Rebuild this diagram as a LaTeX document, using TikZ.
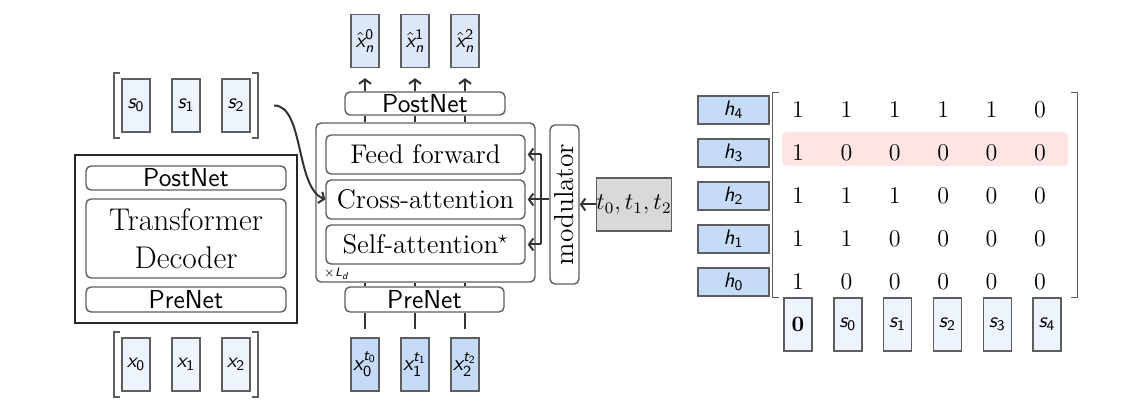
\documentclass[tikz,border=0pt]{standalone}
\usepackage{graphicx}
\usetikzlibrary{positioning,fit,calc,arrows.meta}
\DeclareMathAlphabet{\mathsfit}{TU}{lmss}{m}{sl}
\DeclareMathAlphabet{\mathsfup}{TU}{lmss}{m}{n}
\definecolor{edgegray}{HTML}{5E5E5E}
\definecolor{wiregray}{HTML}{333333}
\definecolor{veclight}{HTML}{EEF4FD}
\definecolor{vechat}{HTML}{DCE8F9}
\definecolor{vecmid}{HTML}{C6DBF7}
\definecolor{tgray}{HTML}{D9D9D9}
\definecolor{hlpink}{HTML}{FFE4E4}
\newcommand{\blockfont}{\fontsize{13.5}{16}\selectfont}
\newcommand{\netfont}{\sffamily\fontsize{13}{15}\selectfont}
\begin{document}
\begin{tikzpicture}[x=0.5pt,y=-0.5pt, >={Straight Barb[length=2.2pt,width=6pt]},
    vec/.style={draw=edgegray, fill=veclight, line width=0.7pt, minimum width=14pt,
      minimum height=26.5pt, inner sep=0pt, font=\fontsize{10.5}{12}\selectfont},
    block/.style={draw=edgegray, line width=0.7pt, rounded corners=2.5pt, inner sep=0pt},
    bracket/.style={draw=edgegray, line width=0.8pt},
    wire/.style={draw=wiregray, line width=1pt}]
  \useasboundingbox (0,0) rectangle (1142,406);

  % Left: plain decoder with its sequences
  \foreach \i in {0,1,2} {
    \node[vec] (s\i) at (136+50*\i,105.5) {$\mathsfit{s}_{\mathsfup{\i}}$};
    \node[vec] (x\i) at (136+50*\i,364.5) {$\mathsfit{x}_{\mathsfup{\i}}$};
  }
  \node[fit=(s0)(s2), inner xsep=3.5pt, inner ysep=2.5pt] (svec) {};
  \node[fit=(x0)(x2), inner xsep=3.5pt, inner ysep=2.5pt] (xvec) {};
  \node[fit={(773,93) (1077,297)}, inner sep=0pt] (mat) {};
  \foreach \v in {svec,xvec,mat} {
    \draw[bracket] ($(\v.north west)+(6,0)$) -- (\v.north west) -- (\v.south west) -- ($(\v.south west)+(6,0)$);
    \draw[bracket] ($(\v.north east)+(-6,0)$) -- (\v.north east) -- (\v.south east) -- ($(\v.south east)+(-6,0)$);
  }
  \node[draw=black!85, line width=0.7pt, minimum width=111pt, minimum height=84pt] (dec) at (186,239) {};
  \node[block, minimum width=100pt, minimum height=12pt, font=\netfont] (decpost) at (186,178) {PostNet};
  \node[block, minimum width=100pt, minimum height=39.5pt, align=center,
    font=\fontsize{15.7}{19}\selectfont] (dectr) at (186,238.5) {Transformer\\Decoder};
  \node[block, minimum width=100pt, minimum height=12.5pt, font=\netfont] (decpre) at (186,299.5) {PreNet};

  % Middle: modulated decoder
  \foreach \i in {0,1,2} {
    \node[vec, fill=vechat] (yh\i) at (365+50*\i,41) {$\hat{\mathsfit{x}}_{\mathsfit{n}}^{\mathsfup{\i}}$};
    \node[vec, fill=vecmid, font=\fontsize{11}{12}\selectfont] (xt\i) at (365+50*\i,364.5)
      {$\mathsfit{x}_{\mathsfup{\i}}^{\mathsfit{t}_{\mathsfup{\i}}}$};
  }
  \node[block, minimum width=80pt, minimum height=11.5pt, font=\netfont] (post) at (425,103.5) {PostNet};
  \node[block, minimum width=109.5pt, minimum height=79.5pt] (ld) at (425.5,202.5) {};
  \node[anchor=south west, inner sep=0pt, font=\fontsize{6}{7}\selectfont] (ldnum)
    at ($(ld.south west)+(8,-3)$) {$\times\mathsfit{L}_{\mathsfit{d}}$};
  \node[block, minimum width=99.5pt, minimum height=19.5pt, font=\blockfont] (ff) at (425.5,154.5) {Feed forward};
  \node[block, minimum width=99.5pt, minimum height=19.5pt, font=\blockfont] (ca) at (425.5,199.5) {Cross-attention};
  \node[block, minimum width=99.5pt, minimum height=19.5pt, font=\blockfont] (sa) at (425.5,244.5) {Self-attention$^\star$};
  \node[block, minimum width=14.5pt, minimum height=79.5pt, font=\fontsize{13.7}{16}\selectfont] (mod)
    at (564.5,204.5) {\rotatebox{90}{modulator}};
  \node[draw=edgegray, fill=tgray, line width=0.7pt, minimum width=37pt, minimum height=26.5pt,
    inner sep=0pt, font=\fontsize{11.5}{13}\selectfont] (tt) at (634,204.5) {$t_0,t_1,t_2$};
  \node[block, minimum width=79.5pt, minimum height=12.5pt, font=\netfont] (pre) at (424.5,299.5) {PreNet};

  \foreach \i in {0,1,2} {
    \draw[wire, ->] (yh\i |- post.north) -- ($(yh\i.south)+(0,10)$);
    \draw[wire] (yh\i |- ld.north) -- (yh\i |- post.south);
    \draw[wire] (xt\i |- pre.north) -- (xt\i |- ld.south);
    \draw[wire] (xt\i |- pre.south) -- ($(xt\i.north)+(0,-8)$);
  }
  \draw[wire, ->] (tt.west) -- (mod.east);
  \coordinate (bus) at (541,199.5);
  \draw[wire] (mod.west |- ca.east) -- (bus);
  \draw[wire] (bus |- ff.east) -- (bus |- sa.east);
  \foreach \b in {ff,ca,sa}
    \draw[wire, ->] (bus |- \b.east) -- ($(\b.east)+(2,0)$);
  \draw[wire, ->] ($(svec.east)+(16,0)$) .. controls +(30,0) and +(-30,-12) .. (ca.west);

  % Right: mask matrix
  \fill[hlpink, rounded corners=2pt] (782,132) rectangle (1068,166);
  \foreach \k [count=\r from 0] in {4,3,2,1,0}
    \node[vec, fill=vecmid, minimum width=35.5pt, minimum height=14pt] (h\k) at (733.5,110+43*\r)
      {$\mathsfit{h}_{\mathsfup{\k}}$};
  \foreach \row [count=\r from 0] in {{1,1,1,1,1,0},{1,0,0,0,0,0},{1,1,1,0,0,0},{1,1,0,0,0,0},{1,0,0,0,0,0}}
    \foreach \v [count=\c from 0] in \row
      \node[font=\fontsize{12.5}{14}\selectfont] (m\r\c) at (798+48.4*\c,110+43*\r) {$\v$};
  \node[vec] (c0) at (798,324.5) {$\mathbf{0}$};
  \foreach \i [count=\k from 1] in {0,...,4}
    \node[vec] (c\k) at (798+49.8*\k,324.5) {$\mathsfit{s}_{\mathsfup{\i}}$};
\end{tikzpicture}
\end{document}
